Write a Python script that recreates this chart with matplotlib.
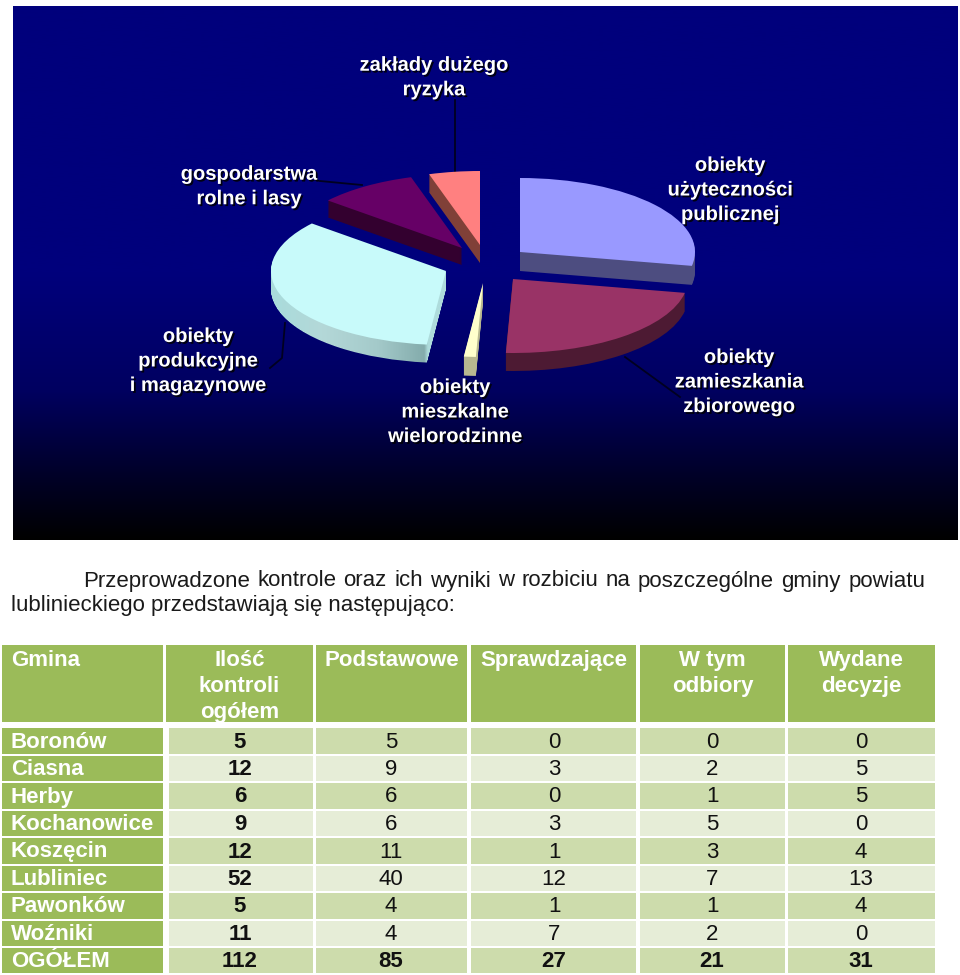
import numpy as np
import matplotlib
matplotlib.use("Agg")
import matplotlib.pyplot as plt
import matplotlib.patheffects as pe
from matplotlib.colors import LinearSegmentedColormap
from matplotlib.patches import Rectangle
from matplotlib.path import Path
from matplotlib.transforms import IdentityTransform

plt.rcParams['font.family'] = ['Liberation Sans', 'DejaVu Sans']

# pie data (shares, clockwise from the top)
slices = ["obiekty\nużyteczności\npublicznej", "obiekty\nzamieszkania\nzbiorowego",
          "obiekty\nmieszkalne\nwielorodzinne", "obiekty\nprodukcyjne\ni magazynowe",
          "gospodarstwa\nrolne i lasy", "zakłady dużego\nryzyka"]
shares = [28, 22.65, 1.1, 34.35, 9.2, 4.7]

top_colors = ["#9999FF", "#993366", "#FFFFCC", "#C8FAFA", "#660066", "#FF8080"]
side_colors = ["#4D4D80", "#4D1A33", "#B8B890", "#9CC8C8", "#33002F", "#804038"]
apex_x = [520, 513, 483, 446, 462, 480]
apex_y = [252, 279, 283, 271, 248, 245]
depth = [19, 18, 19, 18, 17, 18]
label_x = [730, 739, 455, 198, 249, 434]
label_y = [190, 382, 412, 361, 186.5, 77.5]

# table data
columns = ["Gmina", "Ilość\nkontroli\nogółem", "Podstawowe", "Sprawdzające", "W tym\nodbiory", "Wydane\ndecyzje"]
gminy = ["Boronów", "Ciasna", "Herby", "Kochanowice", "Koszęcin", "Lubliniec", "Pawonków", "Woźniki", "OGÓŁEM"]
ogolem = [5, 12, 6, 9, 12, 52, 5, 11, 112]
podstawowe = [5, 9, 6, 6, 11, 40, 4, 4, 85]
sprawdzajace = [0, 3, 0, 3, 1, 12, 1, 7, 27]
odbiory = [0, 2, 1, 5, 3, 7, 1, 2, 21]
decyzje = [0, 5, 5, 0, 4, 13, 4, 0, 31]

col_left = [2, 169, 316, 471, 640, 788]
col_right = [163, 313, 467, 636, 785, 935]
head_left = [2, 166, 316, 471, 640, 788]
col_mid = [11, 240, 391, 554, 712, 861]
row_top = [728, 756, 783, 811, 838, 866, 893, 921, 948]
row_bot = [754, 781, 809, 836, 864, 891, 919, 946, 973]

GREEN = "#9BBB59"
BAND1 = "#CDDCAC"
BAND2 = "#E6EDD7"
TXT = "#111111"
CYAN = 3

fig = plt.figure(figsize=(9.6, 9.75), dpi=100, facecolor="white")
ax = fig.add_axes([0, 0, 1, 1], zorder=1)
ax.set_xlim(0, 960)
ax.set_ylim(975, 0)
ax.axis("off")

# background panel
cmap = LinearSegmentedColormap.from_list("panel", [(0, "#00007C"), (0.5, "#00007C"), (0.72, "#000060"), (0.88, "#000028"), (1, "#000000")])
ax.imshow(np.linspace(0, 1, 256).reshape(-1, 1), cmap=cmap, extent=(13, 958, 540, 6), aspect="auto", zorder=1)

# leader lines
for xs, ys in [([455, 455], [100, 172]), ([320, 362], [181, 185]), ([285, 282, 270], [323, 358, 368]), ([625, 680], [357, 397])]:
    ax.plot(xs, ys, color="#000020", lw=1.3, zorder=2)

# pie, squashed to an ellipse, one stack of wedges for every height step
RX, RY = 175.0, 74.0
pax = fig.add_axes([0, 0, 1, 1], facecolor="none", zorder=3)
cyan_side = []
for d in range(max(depth), -1, -1):
    wedges, _ = pax.pie(shares, startangle=90, counterclock=False, radius=1, center=(0, 0),
                        colors=top_colors, wedgeprops={"linewidth": 0})
    for i, w in enumerate(wedges):
        if d > depth[i]:
            w.set_visible(False)
            continue
        w.set_center((apex_x[i] / RX, -(apex_y[i] + d) / RY))
        w.set_facecolor(top_colors[i] if d == 0 else side_colors[i])
        if i == CYAN and d > 0:
            cyan_side.append(w)
pax.set_aspect("auto")
pax.set_xlim(0, 960 / RX)
pax.set_ylim(-975 / RY, 0)
pax.axis("off")

# the light slice has a shaded side, left light, right dark
paths = [w.get_path().transformed(w.get_transform()) for w in cyan_side]
for w in cyan_side:
    w.set_visible(False)
side_map = LinearSegmentedColormap.from_list("side", [(0, "#A8DCDC"), (0.3, "#B4D8D8"), (0.6, "#A4CACA"), (0.86, "#84ACAC"), (0.88, "#AEDCDC"), (1, "#AEDCDC")])
im = ax.imshow(np.linspace(0, 1, 256).reshape(1, -1), cmap=side_map, extent=(268, 450, 380, 260), aspect="auto", zorder=2.5)
im.set_clip_path(Path.make_compound_path(*paths), IdentityTransform())
ax.set_xlim(0, 960)
ax.set_ylim(975, 0)

# pie labels go on their own axes above the slices
lax = fig.add_axes([0, 0, 1, 1], facecolor="none", zorder=4)
lax.set_xlim(0, 960)
lax.set_ylim(975, 0)
lax.axis("off")
for name, x, y in zip(slices, label_x, label_y):
    t = lax.text(x, y, name, color="white", fontsize=14.5, fontweight="bold", ha="center", va="center",
                 linespacing=1.37)
    t.set_path_effects([pe.withSimplePatchShadow(offset=(1.3, -1.3), shadow_rgbFace="black", alpha=0.85)])

# paragraph, first line is justified between 83 and 925
line1 = "Przeprowadzone kontrole oraz ich wyniki w rozbiciu na poszczególne gminy powiatu".split()
renderer = fig.canvas.get_renderer()
word_txt = [ax.text(0, 581, w, fontsize=16, color="#1a1a1a", va="center") for w in line1]
widths = [t.get_window_extent(renderer).width for t in word_txt]
gap = (925 - 83 - sum(widths)) / (len(line1) - 1)
x = 83
for t, w in zip(word_txt, widths):
    t.set_x(x)
    x += w + gap
ax.text(11, 606, "lublinieckiego przedstawiają się następująco:", fontsize=16, color="#1a1a1a", va="center")

# table header
for c in range(6):
    ax.add_patch(Rectangle((head_left[c], 645), col_right[c] - head_left[c], 77, fc=GREEN, ec="none"))
    if c == 0:
        ax.text(11, 660, columns[c], color="white", fontsize=16, fontweight="bold", va="center")
    else:
        mid = (head_left[c] + col_right[c]) / 2
        ax.text(mid, 650, columns[c], color="white", fontsize=16, fontweight="bold", ha="center", va="top",
                linespacing=1.3)

# table body
values = [ogolem, podstawowe, sprawdzajace, odbiory, decyzje]
for r in range(len(gminy)):
    band = BAND1 if r % 2 == 0 else BAND2
    h = row_bot[r] - row_top[r]
    ymid = (row_top[r] + row_bot[r]) / 2 + 1
    ax.add_patch(Rectangle((col_left[0], row_top[r]), col_right[0] - col_left[0], h, fc=GREEN, ec="none"))
    ax.text(col_mid[0], ymid, gminy[r], color="white", fontsize=16, fontweight="bold", va="center")
    for c in range(1, 6):
        ax.add_patch(Rectangle((col_left[c], row_top[r]), col_right[c] - col_left[c], h, fc=band, ec="none"))
        bold = c == 1 or r == len(gminy) - 1
        ax.text(col_mid[c], ymid, str(values[c - 1][r]), color=TXT, fontsize=16,
                fontweight="bold" if bold else "normal", ha="center", va="center")

fig.savefig("out.png", dpi=100)
